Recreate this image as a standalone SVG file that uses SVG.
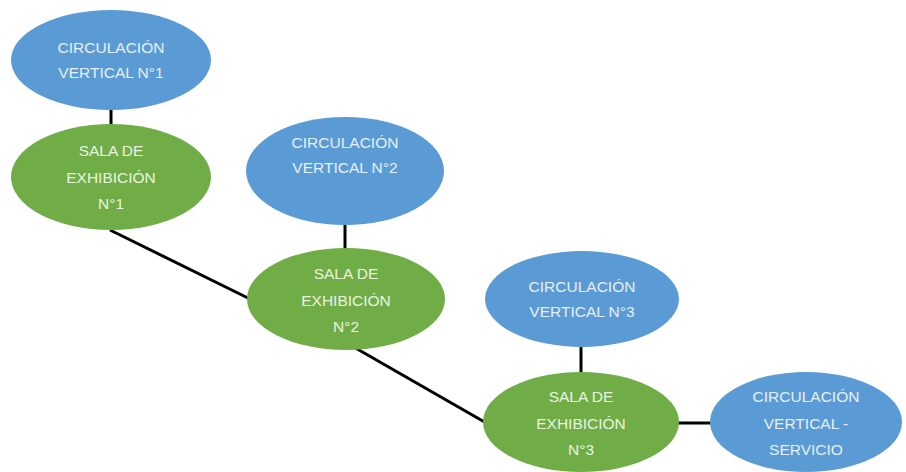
<svg xmlns="http://www.w3.org/2000/svg" width="906" height="472" viewBox="0 0 906 472">
<style>
.blue{fill:#5B9BD5;}
.green{fill:#70AD47;}
.t{font-family:"Liberation Sans","Open Sans",Arial,sans-serif;font-size:15.5px;text-anchor:middle;}
.tb{fill:#E6F0FA;}
.tg{fill:#E9F4E0;}
.c{stroke:#000;stroke-width:3;fill:none;}
</style>
<rect width="906" height="472" fill="#fff"/>
<g id="connectors">
<line class="c" x1="111" y1="108" x2="111" y2="126"/>
<line class="c" x1="110" y1="230" x2="252" y2="300"/>
<line class="c" x1="345" y1="223" x2="345" y2="250"/>
<line class="c" x1="352" y1="346" x2="488" y2="424"/>
<line class="c" x1="581" y1="345" x2="581" y2="375"/>
<line class="c" x1="676" y1="423" x2="712" y2="423"/>
</g>
<g id="cv1">
<ellipse class="blue" cx="111" cy="60" rx="100" ry="50"/>
<text class="t tb" x="111" y="53">CIRCULACIÓN</text>
<text class="t tb" x="111" y="78">VERTICAL N°1</text>
</g>
<g id="sala1">
<ellipse class="green" cx="111" cy="177" rx="100" ry="53"/>
<text class="t tg" x="111" y="156">SALA DE</text>
<text class="t tg" x="111" y="183">EXHIBICIÓN</text>
<text class="t tg" x="111" y="209">N°1</text>
</g>
<g id="cv2">
<ellipse class="blue" cx="345" cy="171" rx="99" ry="54"/>
<text class="t tb" x="345" y="148">CIRCULACIÓN</text>
<text class="t tb" x="345" y="173">VERTICAL N°2</text>
</g>
<g id="sala2">
<ellipse class="green" cx="346" cy="299" rx="99" ry="51"/>
<text class="t tg" x="346" y="279">SALA DE</text>
<text class="t tg" x="346" y="306">EXHIBICIÓN</text>
<text class="t tg" x="346" y="332">N°2</text>
</g>
<g id="cv3">
<ellipse class="blue" cx="582" cy="299" rx="97" ry="48"/>
<text class="t tb" x="582" y="292">CIRCULACIÓN</text>
<text class="t tb" x="582" y="317">VERTICAL N°3</text>
</g>
<g id="sala3">
<ellipse class="green" cx="581" cy="422" rx="98" ry="50"/>
<text class="t tg" x="581" y="402">SALA DE</text>
<text class="t tg" x="581" y="429">EXHIBICIÓN</text>
<text class="t tg" x="581" y="455">N°3</text>
</g>
<g id="cvs">
<ellipse class="blue" cx="806" cy="422" rx="96" ry="50"/>
<text class="t tb" x="806" y="402">CIRCULACIÓN</text>
<text class="t tb" x="806" y="429">VERTICAL -</text>
<text class="t tb" x="806" y="455">SERVICIO</text>
</g>
</svg>
